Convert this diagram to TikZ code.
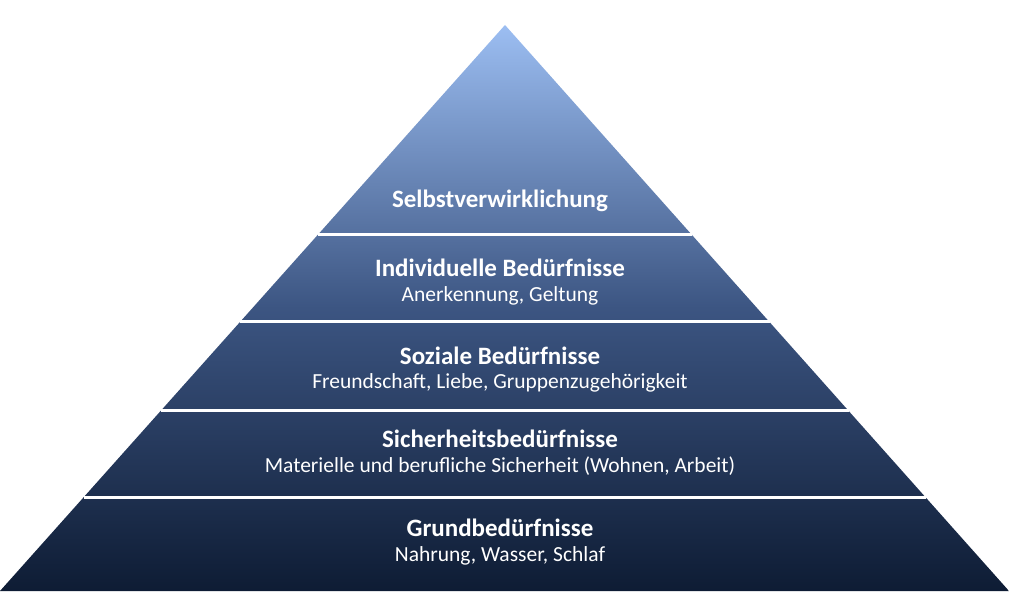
\documentclass[tikz,border=0pt]{standalone}
\usepackage{fontspec}
\setmainfont{Carlito}
\usetikzlibrary{positioning}
\begin{document}
\begin{tikzpicture}[x=1pt,y=-1pt,
  ttl/.style={text=white, font=\fontsize{25}{28}\selectfont\bfseries, inner sep=0pt},
  sub/.style={text=white, font=\fontsize{21.5}{24}\selectfont, inner sep=0pt},
  sep/.style={white, line width=3pt}]
\useasboundingbox (0,0) rectangle (1009,593);
% pyramid body
\coordinate (top) at (505,25);
\coordinate (bl) at (0,591);
\coordinate (br) at (1009,591);
\shade[top color={rgb,255:red,156;green,190;blue,242}, bottom color={rgb,255:red,14;green,28;blue,52},
  middle color={rgb,255:red,60;green,85;blue,130}] (top) -- (bl) -- (br) -- cycle;
% layer borders
\foreach \y in {235,322,410,497}{
  \pgfmathsetmacro{\hw}{(\y-25)/566*505}
  \draw[sep] (505-\hw,\y) -- (505+\hw,\y);}
% labels
\node[ttl] (l5) at (500,201) {Selbstverwirklichung};
\node[ttl] (l4) at (500,268) {Individuelle Bedürfnisse};
\node[sub] (l4s) at (500,296) {Anerkennung, Geltung};
\node[ttl] (l3) at (500,356) {Soziale Bedürfnisse};
\node[sub] (l3s) at (500,383) {Freundschaft, Liebe, Gruppenzugehörigkeit};
\node[ttl] (l2) at (500,439) {Sicherheitsbedürfnisse};
\node[sub] (l2s) at (500,466) {Materielle und berufliche Sicherheit (Wohnen, Arbeit)};
\node[ttl] (l1) at (500,528) {Grundbedürfnisse};
\node[sub] (l1s) at (500,556) {Nahrung, Wasser, Schlaf};
\end{tikzpicture}
\end{document}
